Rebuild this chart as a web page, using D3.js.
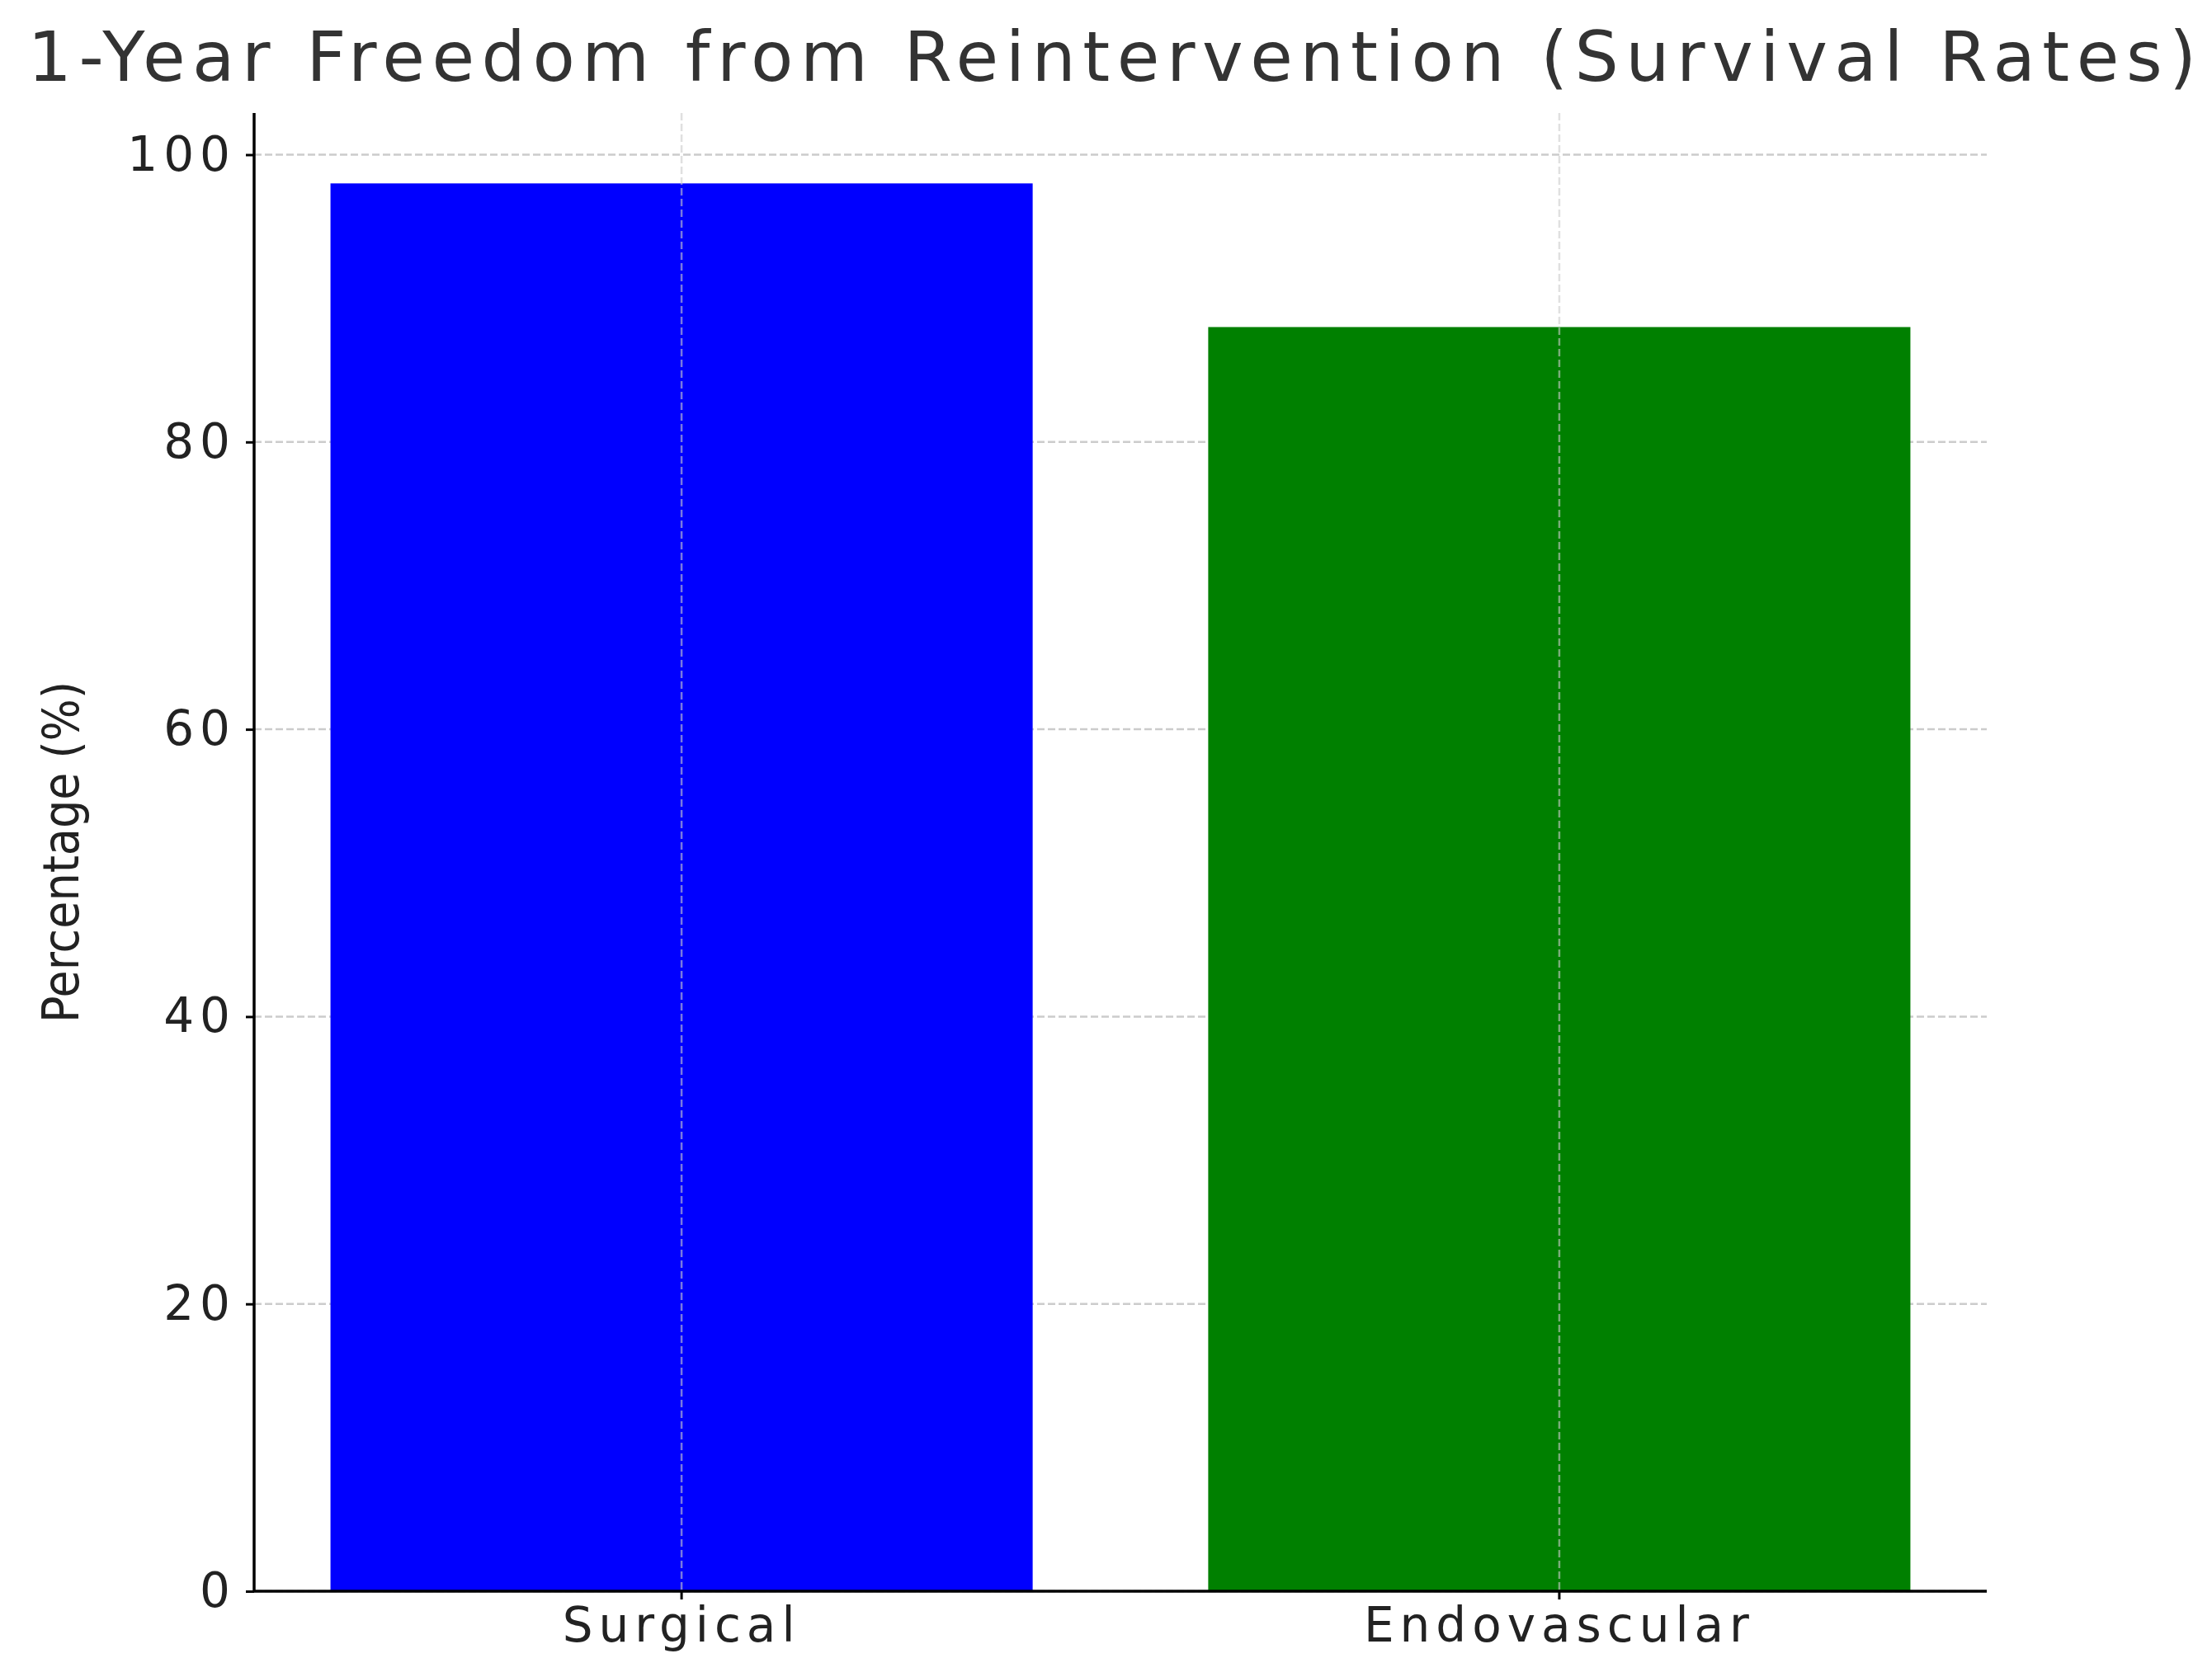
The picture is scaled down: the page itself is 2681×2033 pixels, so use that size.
<!DOCTYPE html>
<html>
<head>
<meta charset="utf-8">
<script src="https://cdn.jsdelivr.net/npm/d3@7"></script>
<style>
  body { margin: 0; background: #fff; }
</style>
</head>
<body>
<div class="c"></div>
<script>
var categories = ["Surgical", "Endovascular"];
var values = [98, 88];
var barColors = ["#0000ff", "#008000"];
var yTicks = [0, 20, 40, 60, 80, 100];

var w = 2681, h = 2033;
var mLeft = 308, mRight = 2408, mTop = 137, mBottom = 1929;

var svg = d3.select(".c").append("svg")
  .attr("width", w).attr("height", h);

var x = d3.scaleBand().domain(categories)
  .range([mLeft, mRight]).paddingInner(0.2).paddingOuter(0.087);
var y = d3.scaleLinear().domain([0, 102.9]).range([mBottom, mTop]);

// grid
svg.selectAll(".hg").data(yTicks).enter().append("line")
  .attr("x1", mLeft).attr("x2", mRight)
  .attr("y1", function (d) { return y(d); }).attr("y2", function (d) { return y(d); })
  .style("stroke", "#cccccc").style("stroke-width", 2.5).style("stroke-dasharray", "9,4");

// bars
svg.selectAll("rect").data(values).enter().append("rect")
  .attr("x", function (d, i) { return x(categories[i]); })
  .attr("width", x.bandwidth())
  .attr("y", function (d) { return y(d); })
  .attr("height", function (d) { return mBottom - y(d); })
  .style("fill", function (d, i) { return barColors[i]; });

// vertical grid over bars
svg.selectAll(".vg").data(categories).enter().append("line")
  .attr("x1", function (d) { return x(d) + x.bandwidth() / 2; })
  .attr("x2", function (d) { return x(d) + x.bandwidth() / 2; })
  .attr("y1", mTop).attr("y2", mBottom)
  .style("stroke", "#cccccc").style("stroke-opacity", 0.6).style("stroke-width", 2.5).style("stroke-dasharray", "9,4");

var font = "DejaVu Sans";

var ya = svg.append("g").attr("transform", "translate(" + mLeft + ",0)")
  .call(d3.axisLeft(y).tickValues(yTicks).tickSize(10).tickPadding(12));
var xa = svg.append("g").attr("transform", "translate(0," + mBottom + ")")
  .call(d3.axisBottom(x).tickSize(10).tickPadding(10));
[ya, xa].forEach(function (a) {
  a.select(".domain").style("stroke", "#000").style("stroke-width", 3.5);
  a.selectAll(".tick line").style("stroke", "#000").style("stroke-width", 3);
  a.selectAll("text").style("font-family", font).style("font-size", "58px")
    .style("letter-spacing", "7px").style("fill", "#222");
});
ya.select(".domain").attr("d", "M0," + mTop + "V" + mBottom);
xa.select(".domain").attr("d", "M" + mLeft + ",0H" + mRight);

svg.append("text")
  .attr("x", 1352).attr("y", 98).attr("text-anchor", "middle")
  .style("font-family", font).style("font-size", "84px").style("letter-spacing", "8.5px").style("fill", "#333")
  .text("1-Year Freedom from Reintervention (Survival Rates)");

svg.append("text")
  .attr("transform", "translate(95," + (mTop + mBottom) / 2 + ") rotate(-90)")
  .attr("text-anchor", "middle")
  .style("font-family", "DejaVu Sans Condensed, DejaVu Sans").style("font-stretch", "condensed")
  .style("font-size", "60px").style("fill", "#222")
  .text("Percentage (%)");
</script>
</body>
</html>
